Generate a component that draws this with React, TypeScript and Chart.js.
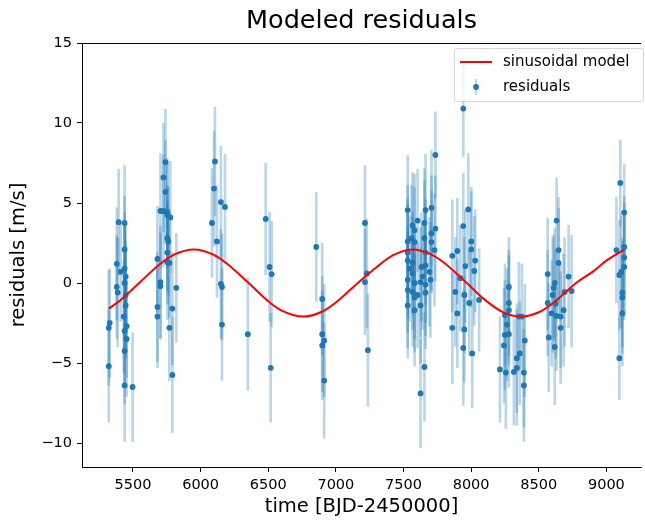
import React, { useEffect, useRef } from "react";
import { Chart, registerables } from "chart.js";

Chart.register(...registerables);

const FONT = "'DejaVu Sans', sans-serif";

const xTicks = [5500, 6000, 6500, 7000, 7500, 8000, 8500, 9000];
const yTicks = [-10, -5, 0, 5, 10, 15];

const times = [
  5321, 5328, 5321, 5394, 5380, 5380, 5387, 5409, 5438, 5438, 5438, 5446, 5438, 5446, 5446, 5431, 5453, 5438, 5453, 5438, 5438, 5497,
  5681, 5681, 5681, 5703, 5703, 5703, 5740, 5725, 5740, 5725, 5754, 5754, 5776, 5754, 5761, 5754, 5754, 5769, 5791, 5769, 5791, 5820,
  6106, 6099, 6150, 6180, 6084, 6121, 6150, 6158, 6158,
  6349, 6481, 6510, 6525, 6518, 6855, 6899, 6899, 6914, 6899, 6914, 7215, 7215, 7229, 7237,
  7736, 7531, 7663, 7707, 7567, 7604, 7582, 7655, 7736, 7707, 7531, 7560, 7582, 7655, 7707, 7729, 7531, 7663, 7531, 7567, 7663,
  7545, 7633, 7567, 7641, 7692, 7699, 7531, 7582, 7626, 7663, 7531, 7567, 7604, 7663, 7582, 7531, 7582, 7626, 7655, 7626,
  7942, 7979, 7942, 8001, 8001, 7861, 7898, 8030, 8023, 7957, 7920, 7883, 7950, 7986, 8059, 7898, 7861, 7950, 7942, 8008,
  8279, 8279, 8279, 8250, 8265, 8279, 8250, 8243, 8213, 8257, 8353, 8375, 8397, 8360, 8338, 8338, 8316, 8390, 8390,
  8632, 8647, 8647, 8566, 8721, 8618, 8610, 8743, 8691, 8603, 8566, 8625, 8684, 8596, 8632, 8662, 8662, 8574, 8618,
  9103, 9132, 9132, 9132, 9132, 9110, 9096, 9074, 9118, 9118, 9118, 9096,
];

const residuals = [
  -2.8, -2.5, -5.2, 3.8, 1.2, -0.25, -0.6, 0.7, 3.75, 2.1, 0.9, 0.4, 0.0, -0.75, -1.4, -2.1, -2.7, -3.0, -3.5, -4.25, -6.4, -6.5,
  1.5, -1.5, -2.1, 0.06, -0.2, 4.5, 7.56, 6.6, 5.7, 4.5, 4.4, 4.25, 4.1, 2.8, 2.6, 1.9, 1.3, 1.25, -1.6, -2.8, -5.75, -0.3,
  7.6, 5.9, 5.06, 4.75, 3.75, 2.6, -0.06, -0.25, -2.6,
  -3.2, 4.0, 1.0, 0.56, -5.3, 2.25, -1.0, -3.2, -3.6, -3.9, -6.1, 3.75, 0.06, 0.6, -4.2,
  8.0, 4.56, 4.56, 4.7, 3.6, 3.9, 3.3, 3.75, 3.4, 3.1, 2.6, 2.8, 2.56, 2.8, 2.56, 2.06, 1.9, 1.9, 1.4, 1.25, 1.1,
  0.9, 1.0, 0.6, 0.4, 0.7, 0.2, 0.2, 0.0, 0.06, -0.1, -0.44, -0.56, -0.75, -0.6, -0.9, -1.4, -1.7, -1.4, -5.25, -6.9,
  10.9, 4.6, 3.56, 2.6, 2.1, 1.7, 2.0, 1.4, 0.75, 1.06, 0.3, -0.56, -0.75, -1.25, -1.06, -1.9, -2.8, -2.9, -4.06, -4.4,
  -0.25, -1.25, -1.7, -2.0, -2.6, -3.2, -3.25, -3.9, -5.4, -5.6, -2.1, -2.1, -3.6, -4.4, -4.7, -5.3, -5.56, -5.6, -6.4,
  3.9, 2.06, 1.25, 0.56, 0.4, 0.0, -0.3, -0.5, -0.56, -0.75, -1.25, -1.3, -1.7, -1.9, -2.06, -2.1, -2.8, -3.4, -4.0,
  6.25, 4.4, 2.25, 1.6, 1.0, 0.7, 0.5, 2.06, -0.6, -0.9, -1.9, -4.7,
];

const errors = [
  3.6, 3.4, 3.5, 3.3, 3.5, 3.2, 3.4, 3.1, 3.6, 3.3, 3.5, 3.2, 3.6, 3.4, 3.3, 3.5, 3.2, 3.4, 3.6, 3.3, 3.5, 3.4,
  3.3, 3.4, 3.2, 3.5, 3.3, 3.6, 3.3, 3.4, 3.2, 3.5, 3.4, 3.3, 3.5, 3.3, 3.4, 3.2, 3.6, 3.4, 3.5, 3.3, 3.6, 3.4,
  3.4, 3.6, 3.5, 3.3, 3.4, 3.5, 3.4, 3.3, 3.5,
  3.5, 3.5, 3.4, 3.3, 3.4, 3.4, 3.5, 3.6, 3.5, 3.4, 3.6, 3.6, 3.3, 3.4, 3.5,
  2.7, 3.4, 3.5, 3.6, 3.3, 3.2, 3.5, 3.4, 3.3, 3.6, 3.5, 3.3, 3.4, 3.6, 3.2, 3.5, 3.4, 3.3, 3.5, 3.2, 3.6,
  3.3, 3.4, 3.5, 3.3, 3.4, 3.6, 3.3, 3.5, 3.4, 3.2, 3.6, 3.4, 3.3, 3.5, 3.4, 3.3, 3.5, 3.6, 3.4, 3.4,
  3.0, 3.5, 3.3, 3.4, 3.6, 3.5, 3.3, 3.2, 3.4, 3.5, 3.3, 3.4, 3.6, 3.3, 3.2, 3.4, 3.5, 3.3, 3.6, 3.4,
  3.1, 3.3, 3.4, 3.2, 3.5, 3.3, 3.4, 3.6, 3.3, 3.5, 3.4, 3.3, 3.5, 3.2, 3.4, 3.6, 3.3, 3.4, 3.5,
  2.7, 3.3, 3.4, 3.5, 3.2, 3.4, 3.3, 3.5, 3.4, 3.6, 3.3, 3.4, 3.5, 3.3, 3.4, 3.2, 3.5, 3.4, 3.6,
  2.7, 3.0, 3.2, 3.4, 3.3, 3.5, 3.4, 3.3, 3.4, 3.5, 3.3, 2.6,
];

const modelTimes = [
  5321, 5400, 5545, 5700, 5800, 5952, 6100, 6200, 6355, 6500, 6600, 6758, 6900, 7000, 7162,
  7300, 7420, 7564, 7700, 7800, 7968, 8100, 8230, 8372, 8500, 8600, 8776, 8900, 9000, 9132,
];
const modelValues = [
  -1.6, -1.13, 0.0, 1.19, 1.76, 2.1, 1.75, 1.17, 0.0, -1.14, -1.73, -2.1, -1.78, -1.22, 0.0,
  0.98, 1.72, 2.1, 1.81, 1.27, 0.0, -1.04, -1.8, -2.1, -1.83, -1.3, 0.0, 0.71, 1.4, 2.09,
];

const fmt = (v: number) => (v < 0 ? "\u2212" + Math.abs(v) : String(v));

export default function App() {
  const ref = useRef<HTMLCanvasElement | null>(null);

  useEffect(() => {
    if (!ref.current) return;

    const framePlugin = {
      id: "frameAndLegend",
      afterDraw(chart: any) {
        const { ctx, chartArea } = chart;
        ctx.save();
        // top spine
        ctx.strokeStyle = "#000";
        ctx.lineWidth = 1;
        ctx.beginPath();
        ctx.moveTo(chartArea.left, chartArea.top + 0.5);
        ctx.lineTo(chartArea.right, chartArea.top + 0.5);
        ctx.stroke();

        // legend
        const bx = 454;
        const by = chartArea.top + 5;
        const bw = 189;
        const bh = 53;
        ctx.beginPath();
        (ctx as any).roundRect(bx + 0.5, by + 0.5, bw, bh, 3);
        ctx.fillStyle = "rgba(255,255,255,0.8)";
        ctx.fill();
        ctx.strokeStyle = "rgba(204,204,204,0.8)";
        ctx.stroke();

        const row1 = by + 14;
        const row2 = by + 39;
        ctx.strokeStyle = "#ff0000";
        ctx.lineWidth = 2;
        ctx.beginPath();
        ctx.moveTo(bx + 6, row1);
        ctx.lineTo(bx + 38, row1);
        ctx.stroke();

        ctx.strokeStyle = "rgba(31,119,180,0.3)";
        ctx.lineWidth = 2;
        ctx.beginPath();
        ctx.moveTo(bx + 22, row2 - 8);
        ctx.lineTo(bx + 22, row2 + 8);
        ctx.stroke();
        ctx.fillStyle = "#1f77b4";
        ctx.beginPath();
        ctx.arc(bx + 22, row2, 2.9, 0, Math.PI * 2);
        ctx.fill();

        ctx.fillStyle = "#000";
        ctx.font = `15px ${FONT}`;
        ctx.textBaseline = "middle";
        ctx.textAlign = "left";
        ctx.fillText("sinusoidal model", bx + 49, row1);
        ctx.fillText("residuals", bx + 49, row2);
        ctx.restore();
      },
    };

    const chart = new Chart(ref.current, {
      type: "scatter",
      data: {
        datasets: [
          {
            type: "line",
            label: "sinusoidal model",
            data: modelTimes.map((t, i) => ({ x: t, y: modelValues[i] })),
            borderColor: "#ff0000",
            borderWidth: 2,
            pointRadius: 0,
            cubicInterpolationMode: "monotone",
            fill: false,
            order: 0,
          } as any,
          {
            type: "scatter",
            label: "residuals",
            data: times.map((t, i) => ({ x: t, y: residuals[i] })),
            pointRadius: 2.9,
            pointBackgroundColor: "#1f77b4",
            pointBorderWidth: 0,
            borderWidth: 0,
            order: 1,
          } as any,
          {
            type: "bar",
            label: "error",
            data: times.map((t, i) => ({ x: t, y: [residuals[i] - errors[i], residuals[i] + errors[i]] })),
            backgroundColor: "rgba(31,119,180,0.3)",
            borderWidth: 0,
            barThickness: 2,
            grouped: false,
            order: 2,
          } as any,
        ],
      },
      options: {
        responsive: false,
        devicePixelRatio: 1,
        animation: false,
        events: [],
        layout: { padding: 0 },
        plugins: {
          legend: { display: false },
          tooltip: { enabled: false },
          title: {
            display: true,
            fullSize: false,
            text: "Modeled residuals",
            color: "#000",
            font: { family: FONT, size: 25.5, weight: "normal" },
            padding: { top: 6, bottom: 6.4 },
          },
        },
        scales: {
          x: {
            type: "linear",
            min: 5123,
            max: 9256,
            offset: false,
            afterBuildTicks: (s: any) => {
              s.ticks = xTicks.map((v) => ({ value: v }));
            },
            afterFit: (s: any) => {
              s.height = 54;
            },
            ticks: {
              color: "#000",
              font: { family: FONT, size: 14.5 },
              padding: 5,
              maxRotation: 0,
              autoSkip: false,
              callback: (v: any) => fmt(Number(v)),
            },
            grid: { drawOnChartArea: false, drawTicks: true, tickLength: 5, color: "#000", offset: false },
            border: { display: true, color: "#000", width: 1 },
            title: {
              display: true,
              text: "time [BJD-2450000]",
              color: "#000",
              font: { family: FONT, size: 19.5 },
              padding: { top: 0, bottom: 2 },
            },
          },
          y: {
            type: "linear",
            min: -11.5,
            max: 15,
            afterBuildTicks: (s: any) => {
              s.ticks = yTicks.map((v) => ({ value: v }));
            },
            afterFit: (s: any) => {
              s.width = 82;
            },
            ticks: {
              color: "#000",
              font: { family: FONT, size: 14.5 },
              padding: 5,
              autoSkip: false,
              callback: (v: any) => fmt(Number(v)),
            },
            grid: { drawOnChartArea: false, drawTicks: true, tickLength: 5, color: "#000" },
            border: { display: true, color: "#000", width: 1 },
            title: {
              display: true,
              text: "residuals [m/s]",
              color: "#000",
              font: { family: FONT, size: 19.5 },
              padding: { top: 7, bottom: 0 },
            },
          },
        },
      },
      plugins: [framePlugin],
    } as any);

    return () => chart.destroy();
  }, []);

  return (
    <div style={{ position: "absolute", left: 0, top: 0, width: 645, height: 521, background: "#fff" }}>
      <canvas ref={ref} width={645} height={521} style={{ display: "block" }} />
    </div>
  );
}
